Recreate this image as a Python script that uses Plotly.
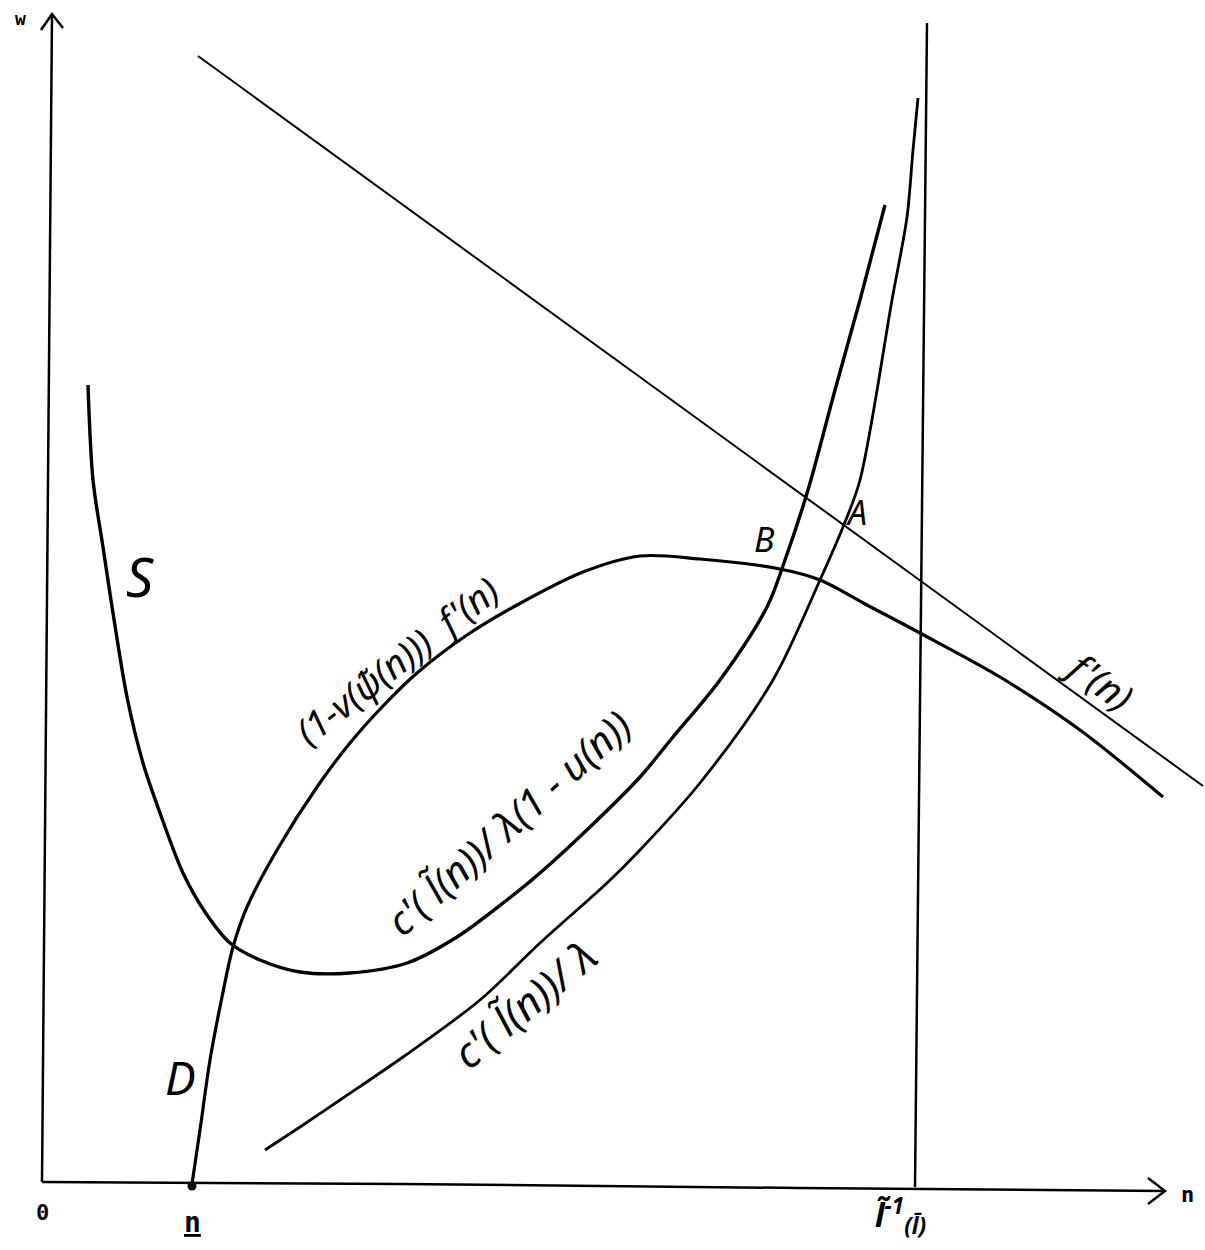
import plotly.graph_objects as go

# ---- data (coordinates in picture units, w axis points downward in screen) ----
# axes
yaxis_n = [52, 42]
yaxis_w = [14, 1182]
xaxis_n = [42, 400, 800, 1165]
xaxis_w = [1182, 1184, 1188, 1191]
warrow_n = [41, 52, 63]
warrow_w = [30, 14, 28]
narrow_n = [1148, 1165, 1148]
narrow_w = [1178, 1191, 1204]

# vertical line at l~^-1(l-bar)
vline_n = [927, 915]
vline_w = [23, 1187]

# f'(n) straight line
fp_n = [198, 1203]
fp_w = [56, 786]

# (1 - v(psi~(n))) f'(n)  -- curve starting at D
v_n = [192, 200, 210, 222, 233, 247, 277, 317, 350, 383, 417, 467, 517, 583, 640, 700, 780, 820, 867, 920, 1000, 1080, 1163]
v_w = [1184, 1130, 1060, 997, 947, 907, 850, 787, 743, 706, 673, 635, 605, 572, 556, 559, 569, 580, 605, 633, 677, 730, 797]

# S curve / c'(l~(n))/lambda(1-u(n))
s_n = [88, 93, 103, 113, 127, 143, 160, 183, 205, 230, 260, 300, 350, 407, 457, 507, 540, 590, 640, 673, 720, 767, 785, 808, 835, 860, 885]
s_w = [385, 480, 547, 613, 697, 763, 813, 873, 912, 943, 960, 972, 973, 963, 937, 900, 873, 827, 777, 737, 680, 607, 560, 490, 390, 300, 205]

# c'(l~(n))/lambda
c_n = [265, 300, 340, 403, 480, 540, 607, 640, 700, 773, 820, 843, 860, 892, 907, 913, 918]
c_w = [1150, 1127, 1100, 1057, 1000, 943, 883, 850, 783, 680, 580, 527, 480, 300, 217, 150, 98]

# point n_ (lower bound) on the axis
dot_n = [192]
dot_w = [1186]

BLACK = "#000000"
fig = go.Figure()

def line(x, y, w, shape="linear"):
    fig.add_trace(go.Scatter(x=x, y=y, mode="lines",
                             line=dict(color=BLACK, width=w, shape=shape, smoothing=0.9),
                             hoverinfo="skip", showlegend=False))

line(yaxis_n, yaxis_w, 2.5)
line(xaxis_n, xaxis_w, 2.5)
line(warrow_n, warrow_w, 2.5)
line(narrow_n, narrow_w, 2.5)
line(vline_n, vline_w, 2.5)
line(fp_n, fp_w, 2)
line(v_n, v_w, 3.2, "spline")
line(s_n, s_w, 3.4, "spline")
line(c_n, c_w, 2.8, "spline")
fig.add_trace(go.Scatter(x=dot_n, y=dot_w, mode="markers",
                         marker=dict(color=BLACK, size=9), hoverinfo="skip", showlegend=False))

HAND = "Noto Sans"
MONO = "DejaVu Sans Mono"

def label(x, y, text, size, angle=0, family=HAND, italic=True, bold=False):
    t = text
    if italic:
        t = "<i>" + t + "</i>"
    if bold:
        t = "<b>" + t + "</b>"
    fig.add_annotation(x=x, y=y, text=t, showarrow=False, textangle=angle,
                       font=dict(family=family, size=size, color=BLACK),
                       xanchor="center", yanchor="middle")

label(20, 18, "w", 18, family=MONO, italic=False, bold=True)
label(1187, 1194, "n", 22, family=MONO, italic=False, bold=True)
label(42, 1212, "0", 22, family=MONO, italic=False, bold=True)
label(192, 1222, "<u>n</u>", 28, family=MONO, italic=False, bold=True)
label(900, 1215, "l̃<sup>-1</sup><sub>(l̄)</sub>", 32, family=HAND, italic=True, bold=True)

label(140, 576, "S", 54)
label(180, 1077, "D", 46)
label(856, 512, "A", 34)
label(764, 539, "B", 34)
label(396, 660, "(1-v(ψ̃(n)))  f'(n)", 37, angle=-38)
label(508, 822, "c'( l̃(n))/ λ(1 - u(n))", 40, angle=-42)
label(524, 1003, "c'( l̃(n))/ λ", 42, angle=-40)
label(1100, 680, "f'(n)", 38, angle=36)

fig.update_layout(width=1205, height=1250, margin=dict(l=0, r=0, t=0, b=0),
                  plot_bgcolor="white", paper_bgcolor="white",
                  xaxis=dict(range=[0, 1205], visible=False, fixedrange=True),
                  yaxis=dict(range=[1250, 0], visible=False, fixedrange=True))

fig.write_html("out.html", config={"displayModeBar": False},
               post_script="document.body.style.margin='0';")
